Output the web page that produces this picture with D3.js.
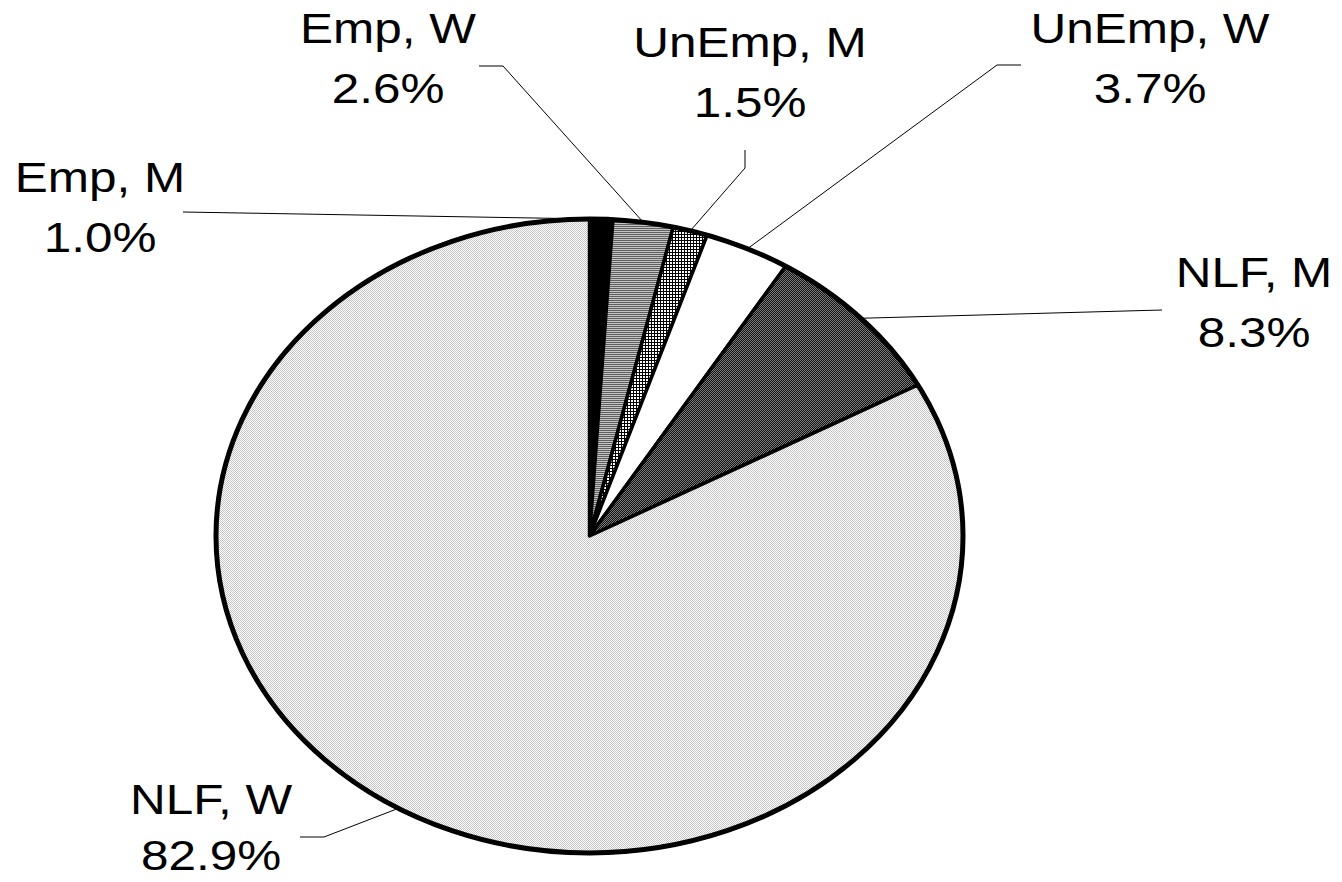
<!DOCTYPE html>
<html>
<head>
<meta charset="utf-8">
<script src="https://cdn.jsdelivr.net/npm/d3@7"></script>
<style>
  html, body { margin: 0; padding: 0; background: #fff; }
  svg { display: block; }
  .lbl { font-family: "Liberation Sans", Arial, sans-serif; font-size: 42px; fill: #000; }
</style>
</head>
<body>
<div id="chart"></div>
<script>
// data (slices clockwise from 12 o'clock)
const categories = ["Emp, M", "Emp, W", "UnEmp, M", "UnEmp, W", "NLF, M", "NLF, W"];
const shares = [1.0, 2.6, 1.5, 3.7, 8.3, 82.9];
const fills = ["#000", "url(#pEmpW)", "url(#pUnEmpM)", "#fff", "url(#pNlfM)", "url(#pNlfW)"];

const width = 1342;
const height = 882;
// the chart is a stretched circle -> ellipse
const cx = 589.5, cy = 536;
const rx = 373.5, ry = 317;
const stretch = rx / ry;

// label layout: center x, first baseline y, and leader knee points
const labelLayout = [
  { x: 100, y: 192, knee: [[183, 212]] },
  { x: 388, y: 43, knee: [[479, 66], [503, 66]] },
  { x: 750, y: 57, knee: [[745, 150], [745, 168]] },
  { x: 1150, y: 43, knee: [[1021, 65], [997, 65]] },
  { x: 1254, y: 287, knee: [[1162, 310]] },
  { x: 211, y: 814, knee: [[300, 837], [324, 837]] },
];

const svg = d3.select("#chart").append("svg")
  .attr("width", width)
  .attr("height", height);

const defs = svg.append("defs");

// horizontal stripes
const p1 = defs.append("pattern").attr("id", "pEmpW")
  .attr("patternUnits", "userSpaceOnUse").attr("width", 2).attr("height", 2);
p1.append("rect").attr("width", 2).attr("height", 1).attr("fill", "#5e5e5e");
p1.append("rect").attr("y", 1).attr("width", 2).attr("height", 1).attr("fill", "#c4c4c4");

// small grid
const p2 = defs.append("pattern").attr("id", "pUnEmpM")
  .attr("patternUnits", "userSpaceOnUse").attr("width", 3).attr("height", 3);
p2.append("rect").attr("width", 3).attr("height", 3).attr("fill", "#000");
p2.append("rect").attr("x", 1).attr("y", 1).attr("width", 2).attr("height", 2).attr("fill", "#fff");

// dark checker
const p3 = defs.append("pattern").attr("id", "pNlfM")
  .attr("patternUnits", "userSpaceOnUse").attr("width", 2).attr("height", 2);
p3.append("rect").attr("width", 2).attr("height", 2).attr("fill", "#111");
p3.append("rect").attr("width", 1).attr("height", 1).attr("fill", "#7c7c7c");
p3.append("rect").attr("x", 1).attr("y", 1).attr("width", 1).attr("height", 1).attr("fill", "#7c7c7c");

// light checker
const p4 = defs.append("pattern").attr("id", "pNlfW")
  .attr("patternUnits", "userSpaceOnUse").attr("width", 2).attr("height", 2);
p4.append("rect").attr("width", 2).attr("height", 2).attr("fill", "#fff");
p4.append("rect").attr("width", 1).attr("height", 1).attr("fill", "#c4c4c4");
p4.append("rect").attr("x", 1).attr("y", 1).attr("width", 1).attr("height", 1).attr("fill", "#c4c4c4");

const pie = d3.pie().sort(null).value((d) => d);
const arcs = pie(shares);

// point on the ellipse at a pie angle (0 = top, clockwise)
const onEllipse = (a) => [cx + rx * Math.sin(a), cy - ry * Math.cos(a)];

const line = d3.line();

function slicePath(d) {
  const n = Math.max(2, Math.ceil((d.endAngle - d.startAngle) / 0.01));
  const pts = [[cx, cy]];
  for (let i = 0; i <= n; i++) {
    pts.push(onEllipse(d.startAngle + (d.endAngle - d.startAngle) * i / n));
  }
  return line(pts) + "Z";
}

svg.append("g")
  .selectAll("path")
  .data(arcs)
  .enter()
  .append("path")
  .attr("d", slicePath)
  .attr("fill", (d, i) => fills[i])
  .attr("stroke", "#000")
  .attr("stroke-width", 3.5)
  .attr("stroke-linejoin", "round");

// thick outer edge
svg.append("ellipse")
  .attr("cx", cx).attr("cy", cy)
  .attr("rx", rx).attr("ry", ry)
  .attr("fill", "none")
  .attr("stroke", "#000")
  .attr("stroke-width", 5);

// leader lines
svg.append("g")
  .selectAll("path")
  .data(arcs)
  .enter()
  .append("path")
  .attr("d", (d, i) => line(labelLayout[i].knee.concat([onEllipse((d.startAngle + d.endAngle) / 2)])))
  .attr("fill", "none")
  .attr("stroke", "#000")
  .attr("stroke-width", 1);

// labels
const labels = svg.append("g")
  .selectAll("text")
  .data(arcs)
  .enter()
  .append("text")
  .attr("class", "lbl")
  .attr("text-anchor", "middle")
  .attr("transform", (d, i) => `translate(${labelLayout[i].x},${labelLayout[i].y}) scale(${stretch},1)`);

labels.append("tspan")
  .attr("x", 0).attr("y", 0)
  .text((d, i) => categories[i]);

labels.append("tspan")
  .attr("x", 0).attr("y", (d, i) => (i === 5 ? 56 : 60))
  .text((d) => d.data.toFixed(1) + "%");
</script>
</body>
</html>
